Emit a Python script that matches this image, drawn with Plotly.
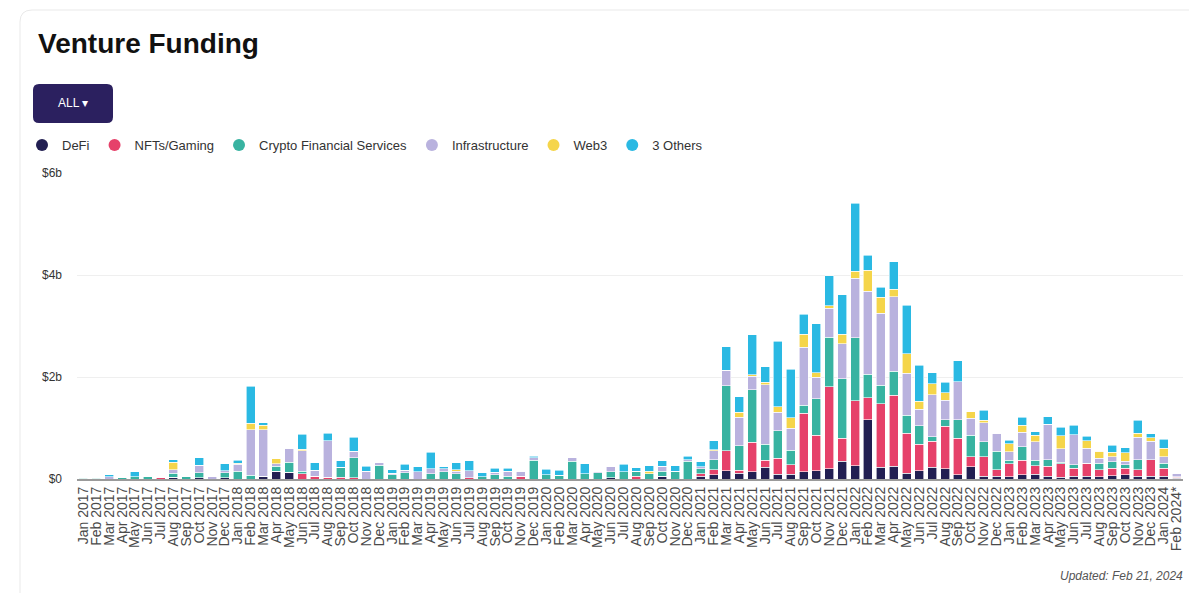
import plotly.graph_objects as go

months = ["Jan 2017","Feb 2017","Mar 2017","Apr 2017","May 2017","Jun 2017","Jul 2017","Aug 2017","Sep 2017","Oct 2017","Nov 2017","Dec 2017",
          "Jan 2018","Feb 2018","Mar 2018","Apr 2018","May 2018","Jun 2018","Jul 2018","Aug 2018","Sep 2018","Oct 2018","Nov 2018","Dec 2018",
          "Jan 2019","Feb 2019","Mar 2019","Apr 2019","May 2019","Jun 2019","Jul 2019","Aug 2019","Sep 2019","Oct 2019","Nov 2019","Dec 2019",
          "Jan 2020","Feb 2020","Mar 2020","Apr 2020","May 2020","Jun 2020","Jul 2020","Aug 2020","Sep 2020","Oct 2020","Nov 2020","Dec 2020",
          "Jan 2021","Feb 2021","Mar 2021","Apr 2021","May 2021","Jun 2021","Jul 2021","Aug 2021","Sep 2021","Oct 2021","Nov 2021","Dec 2021",
          "Jan 2022","Feb 2022","Mar 2022","Apr 2022","May 2022","Jun 2022","Jul 2022","Aug 2022","Sep 2022","Oct 2022","Nov 2022","Dec 2022",
          "Jan 2023","Feb 2023","Mar 2023","Apr 2023","May 2023","Jun 2023","Jul 2023","Aug 2023","Sep 2023","Oct 2023","Nov 2023","Dec 2023",
          "Jan 2024","Feb 2024*"]

# values in $ billions
defi = [0,0,0,0,0,0,0,0.03,0,0.02,0,0.02,
        0,0,0.05,0.15,0.13,0,0,0,0,0,0,0,
        0,0,0,0,0,0,0,0,0,0,0,0,
        0,0,0,0,0,0.02,0,0,0,0.05,0,0,
        0.05,0.08,0.16,0.11,0.14,0.23,0.09,0.09,0.14,0.16,0.20,0.35,
        0.26,1.16,0.23,0.25,0.11,0.16,0.23,0.20,0.08,0.24,0.05,0.05,
        0.04,0.08,0.09,0.05,0.03,0.05,0.05,0.04,0.06,0.08,0.05,0.05,
        0.05,0.01]
nfts = [0,0,0,0,0,0,0.02,0,0,0,0,0,
        0,0,0,0,0,0.10,0.05,0.03,0.03,0.02,0,0,
        0,0,0,0,0,0,0.02,0,0,0,0.05,0,
        0,0,0,0,0,0,0,0.05,0,0,0,0,
        0.05,0.10,0.39,0.06,0.58,0.14,0.32,0.19,1.15,0.70,1.61,0.45,
        1.27,0.43,1.25,1.39,0.79,0.52,0.51,0.83,0.72,0.20,0.39,0.13,
        0.26,0.29,0.17,0.20,0.27,0.16,0.26,0.14,0.15,0.13,0.13,0.33,
        0.16,0.02]
cfs = [0.01,0.01,0,0.02,0.04,0.04,0,0.08,0.05,0.10,0,0.10,
       0.15,0.07,0,0.10,0.20,0.05,0,0,0.20,0.40,0,0.27,
       0.08,0.12,0,0.10,0.14,0.10,0,0.04,0.08,0.05,0,0.37,
       0.08,0.07,0.35,0.10,0.12,0.12,0.14,0.10,0.10,0.10,0.15,0.35,
       0.10,0.20,1.28,0.48,1.03,0.31,0.54,0.28,0.16,0.71,0.97,1.17,
       1.24,0.46,0.36,0.47,0.35,0.36,0.09,0.13,0.36,0.42,0.29,0.36,
       0.07,0.26,0.11,0.13,0.03,0.07,0,0.13,0.13,0.07,0.20,0,
       0.10,0.01]
infra = [0.01,0.01,0.04,0,0,0,0,0.07,0,0.15,0.04,0.04,
         0.14,0.90,0.92,0.05,0.27,0.40,0.12,0.72,0,0.12,0.15,0.05,
         0.03,0.05,0.14,0.10,0.06,0.05,0.14,0,0.05,0.10,0.10,0.05,
         0,0,0.07,0,0.03,0.10,0,0,0,0.10,0,0.03,
         0.04,0.17,0.30,0.56,0.26,1.17,0.36,0.44,1.13,0.43,0.57,0.68,
         1.17,1.63,1.41,1.46,0.82,0.33,0.82,0.38,0.75,0.33,0.37,0.36,
         0.16,0.29,0.36,0.69,0.26,0.59,0.29,0.10,0.10,0.07,0.44,0.36,
         0.13,0.07]
web3 = [0,0,0,0,0,0,0,0.15,0,0,0,0,
        0.02,0.12,0.08,0.10,0,0.03,0,0,0,0,0,0,
        0,0,0,0,0,0.03,0,0,0,0,0,0,
        0,0,0,0,0,0,0,0,0.05,0,0,0,
        0,0.02,0,0.10,0.03,0.05,0.11,0.20,0.26,0.08,0.05,0.19,
        0.13,0.41,0.31,0.15,0.39,0.15,0.22,0.15,0,0.13,0.05,0,
        0.16,0.13,0.13,0,0.26,0,0.15,0.13,0.08,0.16,0.08,0.07,
        0.16,0]
others = [0,0,0.04,0,0.10,0,0,0.05,0,0.15,0,0.14,
          0.06,0.73,0.05,0,0,0.30,0.15,0.15,0.13,0.28,0.10,0,
          0.07,0.12,0.10,0.32,0.04,0.14,0.20,0.08,0.08,0.06,0,0.03,
          0.11,0.10,0,0.20,0,0,0.15,0.07,0.11,0.11,0.11,0.07,
          0.10,0.18,0.46,0.30,0.79,0.30,1.28,0.95,0.39,0.96,0.59,0.77,
          1.34,0.30,0.20,0.54,0.95,0.71,0.21,0.21,0.41,0,0.20,0,
          0.07,0.16,0.07,0.15,0.16,0.18,0.09,0,0.14,0.10,0.25,0.08,
          0.18,0]

series = [("DeFi", defi, "#221f52"),
          ("NFTs/Gaming", nfts, "#e6416a"),
          ("Crypto Financial Services", cfs, "#38b3a1"),
          ("Infrastructure", infra, "#b9b2de"),
          ("Web3", web3, "#f5d54a"),
          ("3 Others", others, "#2ab9e3")]

yticks = [0, 2, 4, 6]
ytick_text = ["$0", "$2b", "$4b", "$6b"]

W, H = 1189, 593
L, R, T, B = 77, 6, 173, 114
PW, PH = W - L - R, H - T - B

def px(x):
    return (x - L) / PW

def py(y):
    return (H - B - y) / PH

fig = go.Figure()
for name, vals, col in series:
    fig.add_trace(go.Bar(x=months, y=vals, name=name, marker_color=col,
                         marker_line_color="white", marker_line_width=0.6,
                         showlegend=False))
for name, vals, col in series:
    fig.add_trace(go.Scatter(x=[None], y=[None], mode="markers", name=name,
                             marker=dict(symbol="circle", size=12, color=col)))

def rrect(x0, y0, x1, y1, r):
    rx = r / PW
    ry = r / PH
    X0, X1 = px(x0), px(x1)
    Y0, Y1 = py(y0), py(y1)
    return (f"M {X0+rx},{Y0} L {X1-rx},{Y0} Q {X1},{Y0} {X1},{Y0-ry} "
            f"L {X1},{Y1+ry} Q {X1},{Y1} {X1-rx},{Y1} L {X0+rx},{Y1} "
            f"Q {X0},{Y1} {X0},{Y1+ry} L {X0},{Y0-ry} Q {X0},{Y0} {X0+rx},{Y0} Z")

shapes = [
    dict(type="path", xref="paper", yref="paper", path=rrect(20, 10, 1210, 620, 12),
         line=dict(color="#e9e9e9", width=1), fillcolor="rgba(0,0,0,0)", layer="below"),
    dict(type="path", xref="paper", yref="paper", path=rrect(33, 84, 113, 123, 6),
         line=dict(width=0), fillcolor="#2b205f"),
]

annotations = [
    dict(text="<b>Venture Funding</b>", x=px(36), y=py(43), xref="paper", yref="paper",
         xanchor="left", yanchor="middle", showarrow=False,
         font=dict(family="Liberation Sans, Arial", size=28, color="#111111")),
    dict(text="ALL ▾", x=px(73), y=py(103), xref="paper", yref="paper",
         xanchor="center", yanchor="middle", showarrow=False,
         font=dict(family="Liberation Sans, Arial", size=12, color="white")),
    dict(text="<i>Updated: Feb 21, 2024</i>", x=px(1185), y=py(576), xref="paper", yref="paper",
         xanchor="right", yanchor="middle", showarrow=False,
         font=dict(family="Liberation Sans, Arial", size=12, color="#555555")),
]

fig.update_layout(
    width=W, height=H,
    margin=dict(l=L, r=R, t=T, b=B, pad=0),
    barmode="stack", bargap=0.3,
    paper_bgcolor="white", plot_bgcolor="white",
    font=dict(family="Liberation Sans, Arial", color="#333333"),
    showlegend=True,
    legend=dict(orientation="h", x=px(22), y=py(145), xanchor="left", yanchor="middle",
                traceorder="normal",
                font=dict(size=13, color="#333333"), itemwidth=30, tracegroupgap=0,
                bgcolor="rgba(0,0,0,0)"),
    shapes=shapes, annotations=annotations,
    xaxis=dict(type="category", tickangle=-90, tickfont=dict(size=14, color="#4a4a4a"),
               tickmode="array", tickvals=months, ticktext=months,
               showline=True, linecolor="#9a9a9a", linewidth=2, ticks="",
               showgrid=False, fixedrange=True),
    yaxis=dict(range=[0, 6.0], tickvals=yticks, ticktext=ytick_text,
               tickfont=dict(size=12, color="#333333"), showgrid=True,
               gridcolor="#efefef", gridwidth=1, zeroline=False, ticks="",
               ticklabelstandoff=14, fixedrange=True),
)

fig.write_html("out.html")
